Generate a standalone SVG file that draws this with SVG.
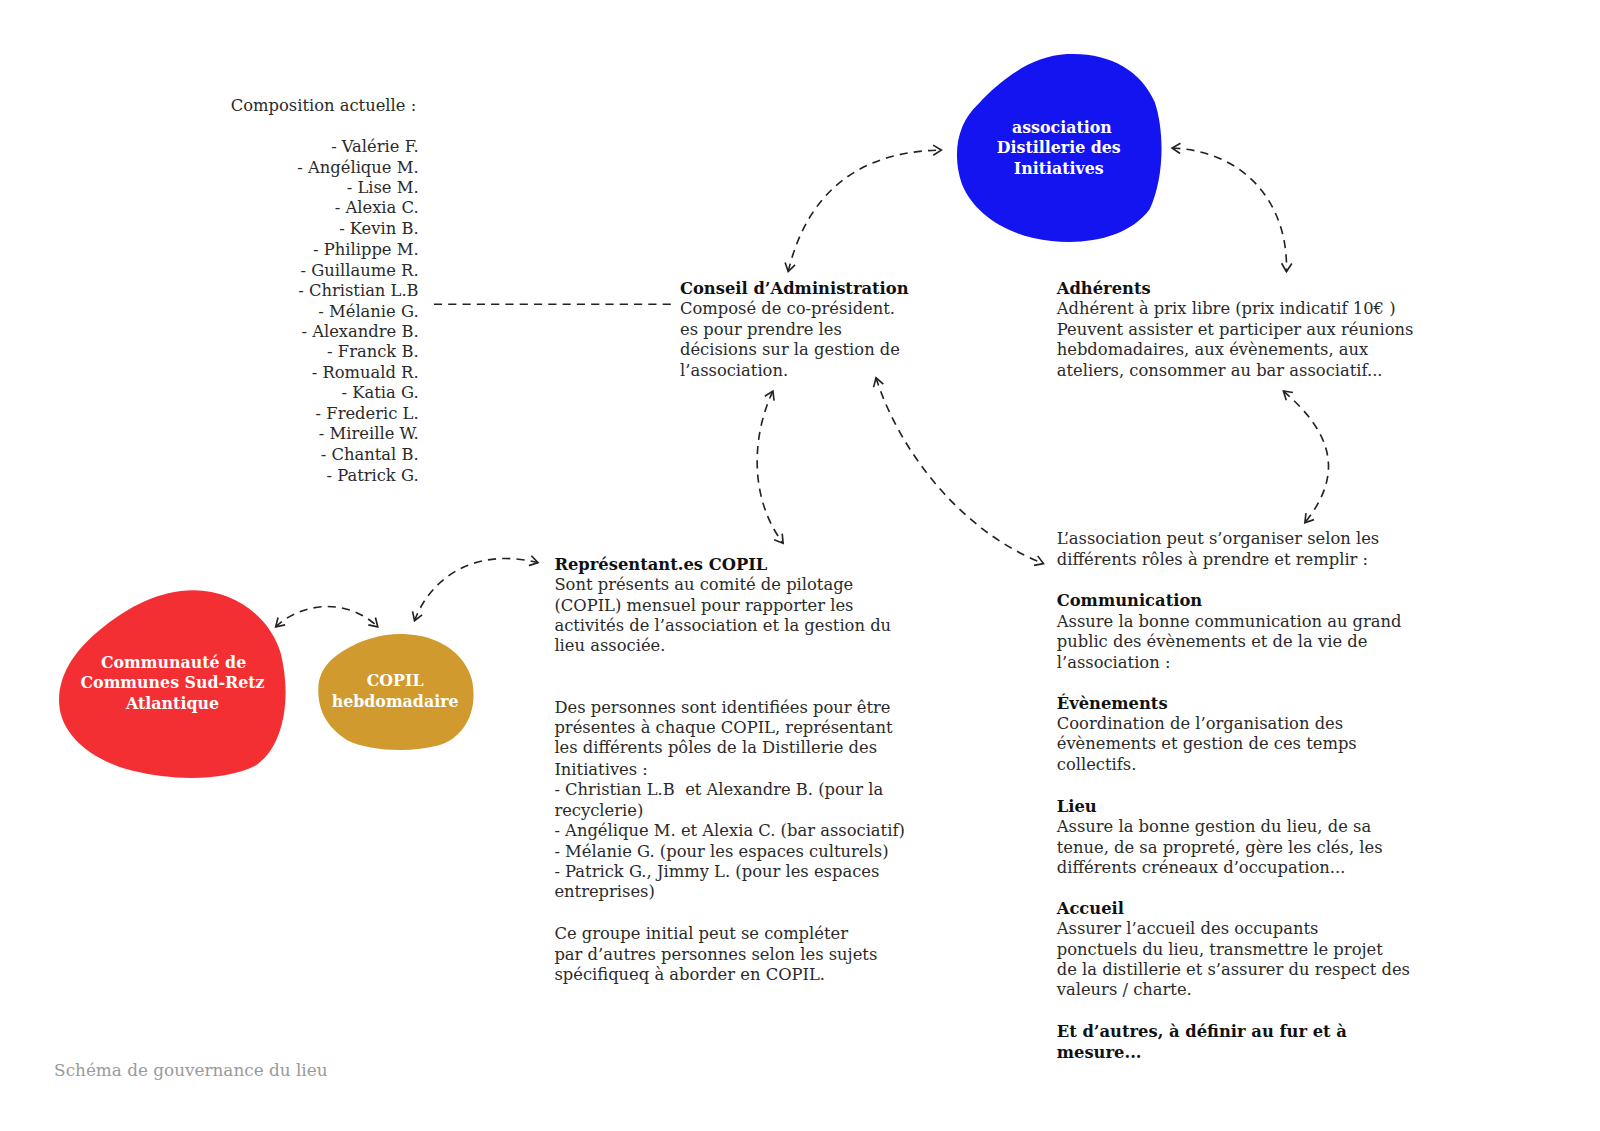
<svg xmlns="http://www.w3.org/2000/svg" width="1600" height="1131" viewBox="0 0 1600 1131">
<defs>
<style>
text{font-family:"DejaVu Serif","Liberation Serif",serif;font-size:16px;fill:#2a2a2a}
.b{font-weight:bold;fill:#111}
.w{font-weight:bold;fill:#fff;text-anchor:middle;font-size:15.5px}
.r{text-anchor:end}
.c{fill:none;stroke:#222;stroke-width:1.6;stroke-dasharray:8 6}
.foot{fill:#9a9a9a;font-size:16.5px}
</style>
<marker id="ah" viewBox="0 0 12 12" refX="10" refY="6" markerWidth="12" markerHeight="12" markerUnits="userSpaceOnUse" orient="auto-start-reverse">
<path d="M2,1 L10,6 L2,11" fill="none" stroke="#222" stroke-width="1.6"/>
</marker>
</defs>
<rect width="1600" height="1131" fill="#fff"/>
<g transform="scale(1.021)">
<g id="connectors">
<path class="c" d="M772,266 C790,190 840,148 922,147" marker-start="url(#ah)" marker-end="url(#ah)"/>
<path class="c" d="M1148,145 C1220,148 1262,200 1260,266" marker-start="url(#ah)" marker-end="url(#ah)"/>
<path class="c" d="M425,298 L657,298"/>
<path class="c" d="M757,383 C735,430 735,490 767,532" marker-start="url(#ah)" marker-end="url(#ah)"/>
<path class="c" d="M858,370 C880,440 940,520 1022,552" marker-start="url(#ah)" marker-end="url(#ah)"/>
<path class="c" d="M1257,383 C1300,420 1320,460 1278,512" marker-start="url(#ah)" marker-end="url(#ah)"/>
<path class="c" d="M270,614 C295,590 340,585 370,614" marker-start="url(#ah)" marker-end="url(#ah)"/>
<path class="c" d="M406,608 C420,570 460,535 527,551" marker-start="url(#ah)" marker-end="url(#ah)"/>
</g>
<g id="association">
<path fill="#1414f0" d="M1045,53 C1085,51 1117,68 1131,100 C1141,130 1140,175 1126,205 C1106,232 1066,240 1030,236 C990,232 955,212 942,180 C932,150 938,120 958,102 C980,78 1010,55 1045,53 Z"/>
<text class="w" x="1040" y="130">association</text>
<text class="w" x="1037" y="150">Distillerie des</text>
<text class="w" x="1037" y="170">Initiatives</text>
</g>
<g id="communaute">
<path fill="#f42f33" d="M190,578 C230,578 265,605 275,640 C285,680 280,730 250,750 C220,765 170,765 130,755 C90,745 60,720 58,690 C56,660 75,635 100,615 C125,595 155,578 190,578 Z"/>
<text class="w" x="170" y="654">Communauté de</text>
<text class="w" x="169" y="674">Communes Sud-Retz</text>
<text class="w" x="169" y="694">Atlantique</text>
</g>
<g id="copil">
<path fill="#d09a2e" d="M395,621 C430,622 455,640 462,665 C468,690 460,720 430,730 C400,738 360,735 340,725 C320,712 310,695 312,670 C315,650 330,640 350,630 C365,624 380,620 395,621 Z"/>
<text class="w" x="387" y="672">COPIL</text>
<text class="w" x="387" y="692">hebdomadaire</text>
</g>
<g id="composition">
<text x="226" y="109">Composition actuelle :</text>
<text class="r" x="410" y="149">- Valérie F.</text>
<text class="r" x="410" y="169">- Angélique M.</text>
<text class="r" x="410" y="189">- Lise M.</text>
<text class="r" x="410" y="209">- Alexia C.</text>
<text class="r" x="410" y="229">- Kevin B.</text>
<text class="r" x="410" y="250">- Philippe M.</text>
<text class="r" x="410" y="270">- Guillaume R.</text>
<text class="r" x="410" y="290">- Christian L.B</text>
<text class="r" x="410" y="310">- Mélanie G.</text>
<text class="r" x="410" y="330">- Alexandre B.</text>
<text class="r" x="410" y="350">- Franck B.</text>
<text class="r" x="410" y="370">- Romuald R.</text>
<text class="r" x="410" y="390">- Katia G.</text>
<text class="r" x="410" y="410">- Frederic L.</text>
<text class="r" x="410" y="430">- Mireille W.</text>
<text class="r" x="410" y="451">- Chantal B.</text>
<text class="r" x="410" y="471">- Patrick G.</text>
</g>
<g id="conseil">
<text class="b" x="666" y="288">Conseil d’Administration</text>
<text x="666" y="308">Composé de co-président.</text>
<text x="666" y="328">es pour prendre les</text>
<text x="666" y="348">décisions sur la gestion de</text>
<text x="666" y="368">l’association.</text>
</g>
<g id="adherents">
<text class="b" x="1035" y="288">Adhérents</text>
<text x="1035" y="308">Adhérent à prix libre (prix indicatif 10€ )</text>
<text x="1035" y="328">Peuvent assister et participer aux réunions</text>
<text x="1035" y="348">hebdomadaires, aux évènements, aux</text>
<text x="1035" y="368">ateliers, consommer au bar associatif...</text>
</g>
<g id="representants">
<text class="b" x="543" y="558">Représentant.es COPIL</text>
<text x="543" y="578">Sont présents au comité de pilotage</text>
<text x="543" y="598">(COPIL) mensuel pour rapporter les</text>
<text x="543" y="618">activités de l’association et la gestion du</text>
<text x="543" y="638">lieu associée.</text>
<text x="543" y="698">Des personnes sont identifiées pour être</text>
<text x="543" y="718">présentes à chaque COPIL, représentant</text>
<text x="543" y="738">les différents pôles de la Distillerie des</text>
<text x="543" y="759">Initiatives :</text>
<text x="543" y="779">- Christian L.B&#160; et Alexandre B. (pour la</text>
<text x="543" y="799">recyclerie)</text>
<text x="543" y="819">- Angélique M. et Alexia C. (bar associatif)</text>
<text x="543" y="839">- Mélanie G. (pour les espaces culturels)</text>
<text x="543" y="859">- Patrick G., Jimmy L. (pour les espaces</text>
<text x="543" y="879">entreprises)</text>
<text x="543" y="920">Ce groupe initial peut se compléter</text>
<text x="543" y="940">par d’autres personnes selon les sujets</text>
<text x="543" y="960">spécifiqueq à aborder en COPIL.</text>
</g>
<g id="roles">
<text x="1035" y="533">L’association peut s’organiser selon les</text>
<text x="1035" y="553">différents rôles à prendre et remplir :</text>
<text class="b" x="1035" y="594">Communication</text>
<text x="1035" y="614">Assure la bonne communication au grand</text>
<text x="1035" y="634">public des évènements et de la vie de</text>
<text x="1035" y="654">l’association :</text>
<text class="b" x="1035" y="694">Évènements</text>
<text x="1035" y="714">Coordination de l’organisation des</text>
<text x="1035" y="734">évènements et gestion de ces temps</text>
<text x="1035" y="754">collectifs.</text>
<text class="b" x="1035" y="795">Lieu</text>
<text x="1035" y="815">Assure la bonne gestion du lieu, de sa</text>
<text x="1035" y="835">tenue, de sa propreté, gère les clés, les</text>
<text x="1035" y="855">différents créneaux d’occupation...</text>
<text class="b" x="1035" y="895">Accueil</text>
<text x="1035" y="915">Assurer l’accueil des occupants</text>
<text x="1035" y="935">ponctuels du lieu, transmettre le projet</text>
<text x="1035" y="955">de la distillerie et s’assurer du respect des</text>
<text x="1035" y="975">valeurs / charte.</text>
<text class="b" x="1035" y="1016">Et d’autres, à définir au fur et à</text>
<text class="b" x="1035" y="1036">mesure...</text>
</g>
<text class="foot" x="53" y="1054">Schéma de gouvernance du lieu</text>
</g>
</svg>
